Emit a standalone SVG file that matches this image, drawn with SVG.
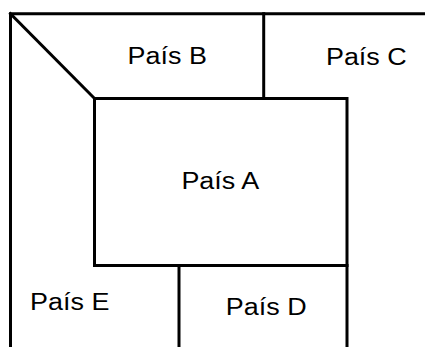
<svg xmlns="http://www.w3.org/2000/svg" width="425" height="347" viewBox="0 0 425 347">
  <style>
    .b { fill: none; stroke: #000; stroke-width: 3; stroke-linecap: square; }
    .t { font-family: "Liberation Sans", Arial, sans-serif; font-size: 23px; fill: #000; text-anchor: middle; }
  </style>
  <rect width="425" height="347" fill="#fff"/>
  <g id="borders">
    <path class="b" d="M10.5,347 V13.7 H426"/>
    <path class="b" d="M10.5,13.7 L94.5,98.5"/>
    <path class="b" d="M94.5,98.5 H347 V347"/>
    <path class="b" d="M94.5,98.5 V265.5 H347"/>
    <path class="b" d="M263.7,13.7 V98.5"/>
    <path class="b" d="M179,265.5 V347"/>
  </g>
  <g id="pais-a"><text class="t" transform="translate(220.3,189.3) scale(1.17,1)">País A</text></g>
  <g id="pais-b"><text class="t" transform="translate(167.2,63.7) scale(1.17,1)">País B</text></g>
  <g id="pais-c"><text class="t" transform="translate(366.3,65) scale(1.17,1)">País C</text></g>
  <g id="pais-d"><text class="t" transform="translate(266.2,315) scale(1.17,1)">País D</text></g>
  <g id="pais-e"><text class="t" transform="translate(69.7,310) scale(1.17,1)">País E</text></g>
</svg>
